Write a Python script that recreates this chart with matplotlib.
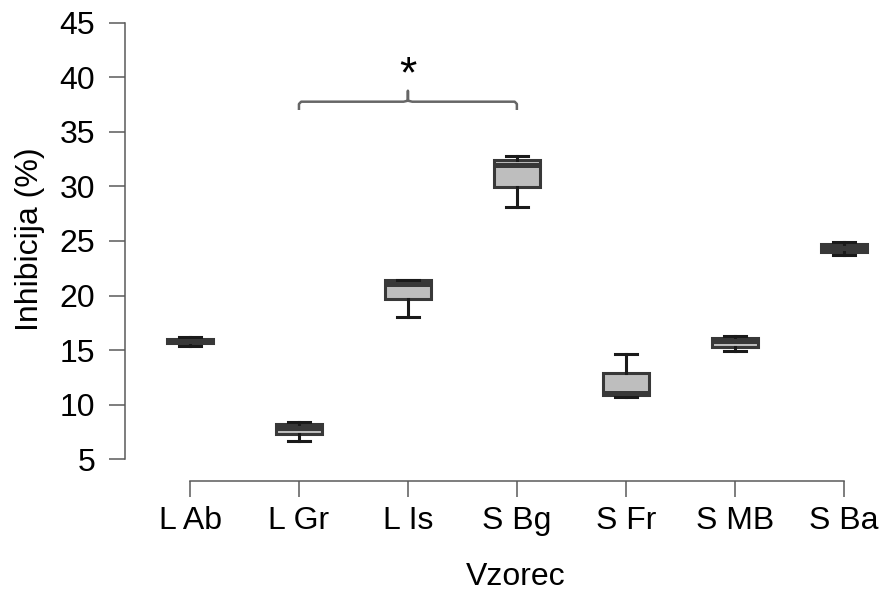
import matplotlib
matplotlib.use("Agg")
import matplotlib.pyplot as plt

plt.rcParams['font.family'] = ['Liberation Sans', 'DejaVu Sans']

# ============  data  ============
vzorec = ['L Ab', 'L Gr', 'L Is', 'S Bg', 'S Fr', 'S MB', 'S Ba']
whis_lo = [15.36, 6.72, 18.04, 28.07, 10.71, 14.94, 23.76]
q1      = [15.61, 7.30, 19.64, 29.97, 10.87, 15.31, 24.01]
median  = [15.80, 7.85, 21.10, 32.00, 11.10, 15.84, 24.35]
q3      = [16.00, 8.25, 21.38, 32.44, 12.89, 16.10, 24.71]
whis_hi = [16.16, 8.46, 21.45, 32.74, 14.67, 16.34, 24.95]

y_ticks = [5, 10, 15, 20, 25, 30, 35, 40, 45]

stats = []
for i in range(len(vzorec)):
    stats.append(dict(label=vzorec[i], whislo=whis_lo[i], q1=q1[i], med=median[i],
                      q3=q3[i], whishi=whis_hi[i], fliers=[]))

# ============  plot  ============
fig = plt.figure(figsize=(8.8, 5.93), dpi=100)
W, H = 880, 593
ax = fig.add_axes([125 / W, (H - 480.7) / H, 745 / W, 470.7 / H])

pos = list(range(1, len(vzorec) + 1))
edge = '#383838'
ax.bxp(stats, positions=pos, widths=0.42, capwidths=0.2, patch_artist=True,
       showfliers=False,
       boxprops=dict(facecolor='#bebebe', edgecolor=edge, linewidth=2.2),
       medianprops=dict(color=edge, linewidth=3.6),
       whiskerprops=dict(color='#1a1a1a', linewidth=2.2),
       capprops=dict(color='#1a1a1a', linewidth=2.2))

ax.set_xlim(0.4034, 7.241)
ax.set_ylim(3.04, 46.16)

axis_col = '#5a5a5a'
for s in ['top', 'right']:
    ax.spines[s].set_visible(False)
for s in ['left', 'bottom']:
    ax.spines[s].set_color(axis_col)
    ax.spines[s].set_linewidth(1.1)
ax.spines['left'].set_bounds(5, 45)
ax.spines['bottom'].set_bounds(1, 7)

ax.set_yticks(y_ticks)
ax.set_xticks(pos)
ax.set_xticklabels(vzorec)
ax.tick_params(axis='both', color=axis_col, width=1.1, length=11.5,
               labelsize=23, labelcolor='black')
ax.tick_params(axis='y', pad=10)
ax.tick_params(axis='x', pad=7)

ax.set_ylabel('Inhibicija (%)', fontsize=23)
ax.set_xlabel('Vzorec', fontsize=23)
ax.yaxis.set_label_coords(-0.107, 0.5135)
ax.xaxis.set_label_coords(0.525, -0.172)

# significance bracket L Gr - S Bg
bx = [2, 2, 2.02, 2.96, 3.0, 3.0, 3.0, 3.04, 3.98, 4, 4]
by = [37.0, 37.55, 37.76, 37.76, 37.85, 38.75, 37.85, 37.76, 37.76, 37.55, 37.0]
ax.plot(bx, by, color='#666666', linewidth=1.8, solid_capstyle='butt',
        solid_joinstyle='round')
ax.text(3, 40.1, '*', ha='center', va='center', fontsize=32)

fig.savefig('out.png', dpi=100)
